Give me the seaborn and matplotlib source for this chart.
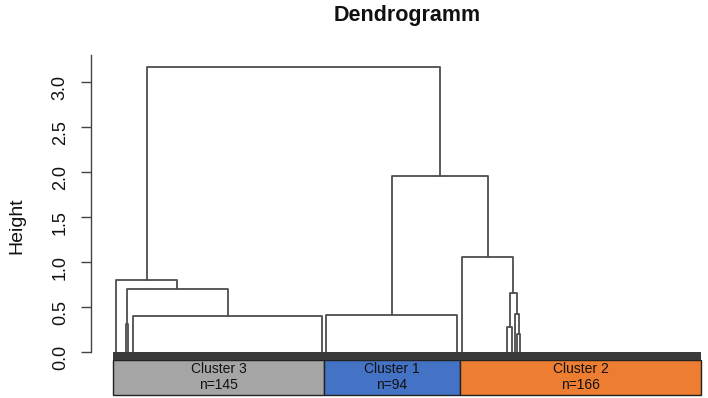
import numpy as np
import pandas as pd
import seaborn as sns
import matplotlib.pyplot as plt

# ─── DATA ─────────────────────────────────────────────
cluster_names  = ["Cluster 3", "Cluster 1", "Cluster 2"]
cluster_sizes  = [145, 94, 166]
cluster_colors = ["#A5A5A5", "#4472C4", "#ED7D31"]

# merge nodes: name, height, left child, right child
# a child is either another node name or a leaf index (flat group anchor)
node_names   = ["C", "E", "D", "B3", "B2", "B1", "B", "A3", "A4", "A2", "A", "root"]
node_heights = [0.27, 0.20, 0.42, 0.65, 1.05, 0.41, 1.95, 0.31, 0.40, 0.70, 0.80, 3.16]
node_left    = [270.9, 277.8, 276.7, "C", 240.0, 146.1, "B1", 8.3, 13.1, "A3", 1.4, "A"]
node_right   = [274.3, 279.8, "E", "D", "B3", 236.5, "B2", 9.6, 143.6, "A4", "A2", "B"]

y_ticks = [0.0, 0.5, 1.0, 1.5, 2.0, 2.5, 3.0]
# ──────────────────────────────────────────────────────

n_leaves = sum(cluster_sizes)

# position/height of every node (R style: node sits at the mean of its children)
pos, hgt = {}, {}
rows = []
for name, h, l, r in zip(node_names, node_heights, node_left, node_right):
    lx, lh = (pos[l], hgt[l]) if isinstance(l, str) else (l, 0.0)
    rx, rh = (pos[r], hgt[r]) if isinstance(r, str) else (r, 0.0)
    pos[name] = (lx + rx) / 2
    hgt[name] = h
    for x, y in [(lx, lh), (lx, h), (rx, h), (rx, rh)]:
        rows.append({"link": name, "x": x, "y": y})
links = pd.DataFrame(rows)

sns.set_style("white")
plt.rcParams["font.family"] = ["Liberation Sans", "DejaVu Sans"]

fig = plt.figure(figsize=(7.08, 3.98), dpi=100)
ax = fig.add_axes([0.16, 0.0033, 0.830, 0.859])

sns.lineplot(data=links, x="x", y="y", units="link", estimator=None, sort=False,
             color="#4d4d4d", linewidth=1.3, ax=ax)

# leaf rug
leaves = np.arange(n_leaves)
ax.vlines(leaves, -0.087, 0, color="#3a3a3a", linewidth=1.6)

# cluster boxes
starts = np.concatenate([[0], np.cumsum(cluster_sizes)[:-1]]) - 0.5
ax.bar(starts, -0.39, width=cluster_sizes, bottom=-0.087, align="edge",
       color=cluster_colors, edgecolor="#222222", linewidth=1.0, clip_on=False)
for s, size, name in zip(starts, cluster_sizes, cluster_names):
    ax.text(s + size / 2, -0.28, f"{name}\nn={size}", ha="center", va="center",
            fontsize=10, linespacing=1.25, color="#111111")

ax.set_xlim(-0.5, n_leaves - 0.5)
ax.set_ylim(-0.5, 3.3)
ax.set_xticks([])
ax.set_xlabel("")
ax.set_yticks(y_ticks)
ax.set_yticklabels([f"{t:.1f}" for t in y_ticks])
ax.tick_params(axis="y", length=7, width=1.0, color="#444444", pad=9, left=True,
               labelrotation=90, labelsize=13, labelcolor="#111111")
for lbl in ax.get_yticklabels():
    lbl.set_va("center")
ax.set_ylabel("Height", fontsize=14, labelpad=19, color="#111111")

for side in ["top", "right", "bottom"]:
    ax.spines[side].set_visible(False)
ax.spines["left"].set_position(("outward", 16))
ax.spines["left"].set_bounds(0, 3.3)
ax.spines["left"].set_color("#444444")
ax.spines["left"].set_linewidth(1.0)

ax.set_title("Dendrogramm", fontsize=15.5, fontweight="bold", pad=24, color="#111111")

fig.savefig("out.png", dpi=100)
